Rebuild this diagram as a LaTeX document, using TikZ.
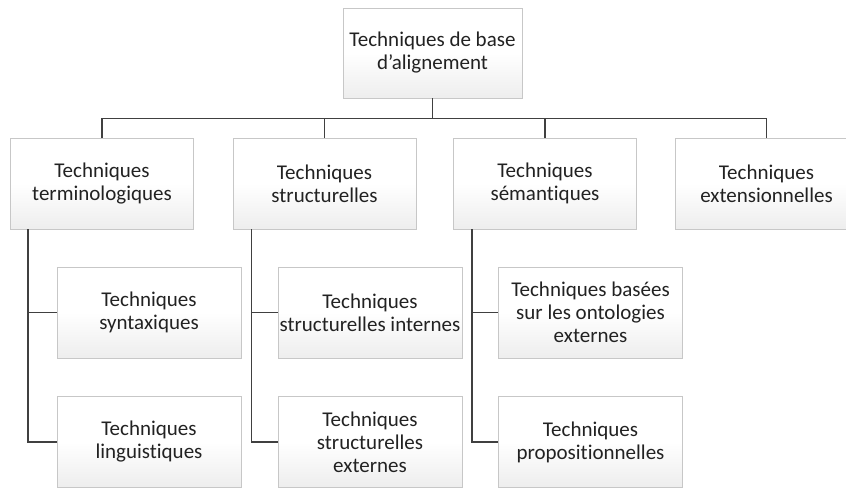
\documentclass[tikz,border=0pt]{standalone}
\usepackage{fontspec}
\setmainfont[Ligatures=NoCommon]{Carlito}
\usetikzlibrary{calc}
\definecolor{linec}{HTML}{404040}
\definecolor{txt}{HTML}{222222}
\tikzset{
  box/.style={draw=black!22, line width=0.9pt, top color=white, bottom color=black!7, middle color=white,
    align=center, text=txt, inner sep=1pt, font=\fontsize{21}{23}\selectfont},
  topbox/.style={box, minimum width=179pt, minimum height=90pt},
  lonebox/.style={box, minimum width=183pt, minimum height=91pt},
  childbox/.style={box, minimum width=184pt, minimum height=91pt},
  conn/.style={draw=linec, line width=1.3pt}
}
\begin{document}
\begin{tikzpicture}[x=1pt,y=-1pt]
\useasboundingbox (0,0) rectangle (846,488);
\fill[white] (0,0) rectangle (846,488);
\node[topbox] (root) at (432.5,53) {Techniques de base\\d’alignement};
\node[lonebox] (b1) at (102,183.5) {Techniques\\terminologiques};
\node[lonebox] (b2) at (324.5,183.5) {Techniques\\structurelles};
\node[lonebox] (b3) at (545,183.5) {Techniques\\sémantiques};
\node[lonebox] (b4) at (766.5,183.5) {Techniques\\extensionnelles};
\node[childbox] (c11) at (149,312.5) {Techniques\\syntaxiques};
\node[childbox] (c12) at (149,442) {Techniques\\linguistiques};
\node[childbox] (c21) at (370,312.5) {Techniques\\structurelles internes};
\node[childbox] (c22) at (370,442) {Techniques\\structurelles\\externes};
\node[childbox] (c31) at (590.5,312.5) {Techniques basées\\sur les ontologies\\externes};
\node[childbox] (c32) at (590.5,442) {Techniques\\propositionnelles};
\coordinate (bus) at ($(root.south)+(0,20)$);
\draw[conn] (root.south) -- (bus);
\draw[conn] (b1.north) |- (bus);
\draw[conn] (b4.north) |- (bus);
\draw[conn] (b2.north) -- (b2.north |- bus);
\draw[conn] (b3.north) -- (b3.north |- bus);
\coordinate (t1) at ($(b1.south west)+(18,0)$);
\coordinate (t2) at ($(b2.south west)+(19,0)$);
\coordinate (t3) at ($(b3.south west)+(19,0)$);
\draw[conn] (t1) |- (c11.west);
\draw[conn] (t1) |- (c12.west);
\draw[conn] (t2) |- (c21.west);
\draw[conn] (t2) |- (c22.west);
\draw[conn] (t3) |- (c31.west);
\draw[conn] (t3) |- (c32.west);
\end{tikzpicture}
\end{document}
